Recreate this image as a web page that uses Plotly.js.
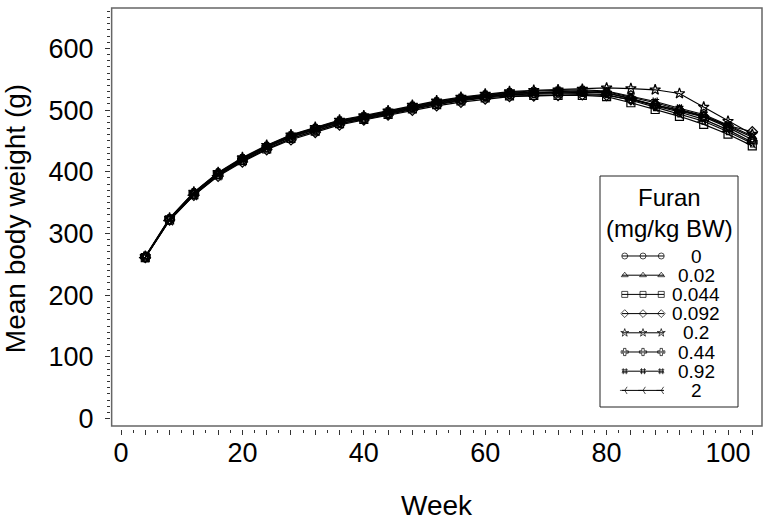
<!DOCTYPE html>
<html><head><meta charset="utf-8">
<script src="https://cdn.plot.ly/plotly-3.0.1.min.js"></script>
<style>body{margin:0;background:#fff}#c{width:770px;height:526px}</style>
</head><body><div id="c"></div>
<script>
const weeks = [4,8,12,16,20,24,28,32,36,40,44,48,52,56,60,64,68,72,76,80,84,88,92,96,100,104];
const doseLabels = ["0","0.02","0.044","0.092","0.2","0.44","0.92","2"];
const legendTitle = "Furan<br>(mg/kg BW)";
const bw_0    = [262,323,364,396,419,439,456,468,480,487,495,504,511,517,522,526,527,528,529,528,518,509,499,489,472,452];
const bw_002  = [262,324,366,398,421,441,458,470,482,489,497,506,513,519,524,528,529,530,531,530,521,512,501,491,474,456];
const bw_0044 = [261,322,363,395,418,437,454,466,478,485,493,502,509,515,520,523,524,524,524,522,512,501,490,477,461,442];
const bw_0092 = [261,322,362,393,416,436,452,464,476,484,492,500,507,513,518,522,523,524,525,524,517,508,500,490,475,465];
const bw_02   = [263,325,367,399,423,443,460,472,484,491,499,508,515,521,526,530,532,533,534,536,535,533,527,505,482,461];
const bw_044  = [262,323,365,397,420,440,457,469,481,488,496,505,512,518,523,527,528,529,530,528,519,507,497,485,468,448];
const bw_092  = [262,324,366,398,422,442,459,471,483,490,498,507,514,520,525,529,531,532,533,531,523,514,503,493,476,458];
const bw_2    = [261,321,362,394,417,437,454,466,478,486,494,503,510,516,521,525,526,527,527,525,516,505,494,482,465,446];
const series = [bw_0,bw_002,bw_0044,bw_0092,bw_02,bw_044,bw_092,bw_2];
const symbols = ['circle-open','triangle-up-open','square-open','diamond-open','star-open','cross-open','hash-open','y-left-open'];

// ---- layout geometry (pixels) ----
const W = 770, H = 526, ML = 111, MR = 8, MT = 8, MB = 97;
const PW = W - ML - MR, PH = H - MT - MB;
const px = v => (v - ML) / PW;          // pixel x -> paper
const py = v => (H - MB - v) / PH;      // pixel y -> paper
const LEG = {l: 600, r: 738, t: 176, b: 407, sx0: 622, sx1: 664, rowTop: 256, rowStep: 19.2, textX: 696, titleY: 213};

const xTickVals = [], xTickText = [];
for (let w = 0; w <= 104; w += 4) { xTickVals.push(w); xTickText.push(w % 20 === 0 ? String(w) : ''); }
const yMinor = [];
for (let v = 10; v <= 660; v += 10) if (v % 100 !== 0) yMinor.push(v);

const FONT = 'Liberation Sans, Arial, sans-serif';
const traces = series.map((ys, i) => ({
  x: weeks, y: ys, name: doseLabels[i], type: 'scatter', mode: 'lines+markers', showlegend: false,
  line: {color: '#000', width: 1.2},
  marker: {symbol: symbols[i], size: 8, color: '#000', line: {color: '#000', width: 1.2}}
}));
// legend samples (three markers on a short line), drawn on a helper subplot
const nRows = doseLabels.length;
const rowLast = LEG.rowTop + LEG.rowStep * (nRows - 1);
doseLabels.forEach((lab, i) => {
  traces.push({
    x: [-0.15, 0, 1, 2, 2.15], y: [i, i, i, i, i], xaxis: 'x2', yaxis: 'y2', type: 'scatter',
    mode: 'lines+markers', showlegend: false, cliponaxis: false, hoverinfo: 'skip',
    line: {color: '#000', width: 1},
    marker: {symbol: symbols[i], size: [0, 6, 6, 6, 0], color: '#000', line: {color: '#000', width: 1}}
  });
});
const annotations = doseLabels.map((lab, i) => ({
  xref: 'paper', yref: 'y2', x: px(LEG.textX), y: i, text: lab, showarrow: false,
  xanchor: 'center', yanchor: 'middle', font: {size: 19, family: FONT, color: '#000'}
}));
annotations.push({xref: 'paper', yref: 'paper', x: px((LEG.l + LEG.r) / 2), y: py(LEG.titleY), text: legendTitle,
  showarrow: false, xanchor: 'center', yanchor: 'middle', font: {size: 24, family: FONT, color: '#000'}});

const layout = {
  width: W, height: H,
  margin: {l: ML, r: MR, t: MT, b: MB},
  paper_bgcolor: '#fff', plot_bgcolor: 'rgba(0,0,0,0)',
  font: {family: FONT, color: '#000'},
  showlegend: false,
  xaxis: {
    range: [-1.65, 105.6], showgrid: false, zeroline: false, showline: false,
    tickmode: 'array', tickvals: xTickVals, ticktext: xTickText,
    ticks: 'outside', ticklen: 5, tickwidth: 1, tickcolor: '#333',
    tickfont: {size: 27, family: FONT}, ticklabelstandoff: -5,
    minor: {ticks: 'outside', dtick: 2, tick0: 0, ticklen: 3, tickwidth: 1, tickcolor: '#333'},
    title: {text: 'Week', font: {size: 28, family: FONT}, standoff: 27}
  },
  yaxis: {
    range: [-17, 665.6], showgrid: false, zeroline: false, showline: false,
    tickmode: 'array', tickvals: [0,100,200,300,400,500,600],
    ticks: 'outside', ticklen: 5, tickwidth: 1, tickcolor: '#333',
    tickfont: {size: 27, family: FONT},
    ticklabelstandoff: 6,
    minor: {ticks: 'outside', tickmode: 'array', tickvals: yMinor, ticklen: 3, tickwidth: 1, tickcolor: '#333'},
    title: {text: 'Mean body weight (g)', font: {size: 28, family: FONT}, standoff: 14}
  },
  xaxis2: {domain: [px(LEG.sx0), px(LEG.sx1)], range: [-0.15, 2.15], visible: false, anchor: 'y2', fixedrange: true},
  yaxis2: {domain: [py(rowLast + LEG.rowStep / 2), py(LEG.rowTop - LEG.rowStep / 2)], range: [nRows - 0.5, -0.5],
           visible: false, anchor: 'x2', fixedrange: true},
  shapes: [
    {type: 'rect', xref: 'paper', yref: 'paper', x0: 0.001, x1: 1, y0: 0.007, y1: 1,
     line: {color: '#666', width: 1.5}, fillcolor: 'rgba(0,0,0,0)'},
    {type: 'rect', xref: 'paper', yref: 'paper', x0: px(LEG.l), x1: px(LEG.r), y0: py(LEG.b), y1: py(LEG.t),
     line: {color: '#222', width: 1}, fillcolor: 'rgba(0,0,0,0)'}
  ],
  annotations: annotations
};
Plotly.newPlot('c', traces, layout, {displayModeBar: false, staticPlot: true});
</script></body></html>
